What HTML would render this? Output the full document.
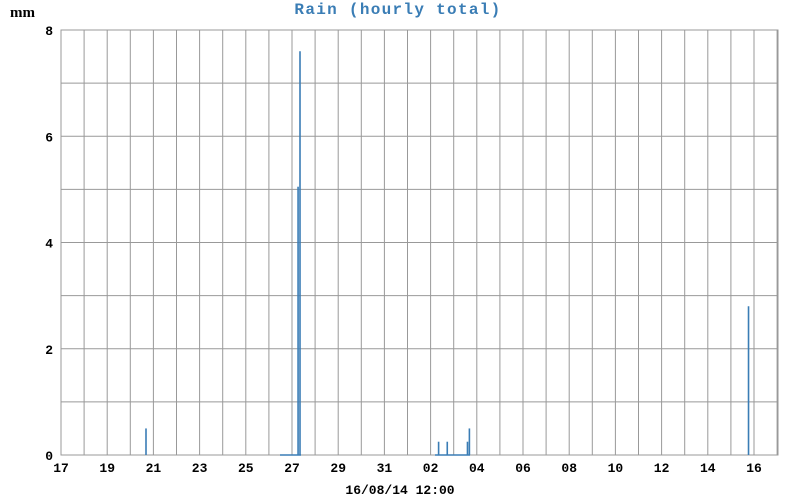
<!DOCTYPE html>
<html><head><meta charset="utf-8"><style>
body{margin:0;background:#fff}
svg{display:block}
text{font-family:"Liberation Mono",monospace;font-weight:bold;font-size:13px;fill:#000}
</style></head><body>
<svg id="chart" width="800" height="500" viewBox="0 0 800 500">
<text x="398" y="14" text-anchor="middle" style="fill:#3a7db5;font-size:16px;letter-spacing:1.3px">Rain (hourly total)</text>
<text x="10" y="17" style="font-family:'Liberation Serif',serif;font-size:15px">mm</text>
<text x="400" y="494" text-anchor="middle">16/08/14 12:00</text>
<g id="grid"></g><g id="bars"></g><g id="ticks"></g>
</svg>
<script>
const yTicks=[0,2,4,6,8];
const xTickLabels=["17","19","21","23","25","27","29","31","02","04","06","08","10","12","14","16"];
const barHours=[88,246,248,392,401,422,424,714];
const barValues=[0.5,5.05,7.6,0.25,0.25,0.25,0.5,2.8];
const L=61,R=778,T=30,B=455,dayW=23.1,yMax=8;
const ns="http://www.w3.org/2000/svg";
const X=h=>L+h/24*dayW, Y=v=>B-(v/yMax)*(B-T);
function mk(t,a,p){const e=document.createElementNS(ns,t);for(const k in a)e.setAttribute(k,a[k]);p.appendChild(e);return e;}
const g=document.getElementById('grid'),bg=document.getElementById('bars'),tg=document.getElementById('ticks');
mk('rect',{x:L,y:T,width:R-L,height:B-T,fill:'none',stroke:'#999'},g);
for(let d=1;L+d*dayW<R;d++){const l=mk('line',{x1:X(d*24),x2:X(d*24),y1:T,y2:B,stroke:'#999'},g);

}
for(let v=1;v<yMax;v++){const l=mk('line',{x1:L,x2:R,y1:Y(v),y2:Y(v),stroke:'#999'},g);

}
yTicks.forEach(v=>{const t=mk('text',{x:L-8,y:Y(v)+5,'text-anchor':'end'},tg);t.textContent=v;

});
xTickLabels.forEach((s,i)=>{const t=mk('text',{x:X(i*48),y:472,'text-anchor':'middle'},tg);t.textContent=s;

});
mk('line',{x1:280,x2:301,y1:B,y2:B,stroke:'#3a7db5','stroke-width':1.5},bg);
mk('line',{x1:435,x2:470,y1:B,y2:B,stroke:'#3a7db5','stroke-width':1.5},bg);
barHours.forEach((h,i)=>{const v=barValues[i];const r=mk('rect',{x:X(h)-0.5,y:Y(v),width:1.6,height:B-Y(v),fill:'#3a7db5'},bg);

});
</script>
</body></html>
